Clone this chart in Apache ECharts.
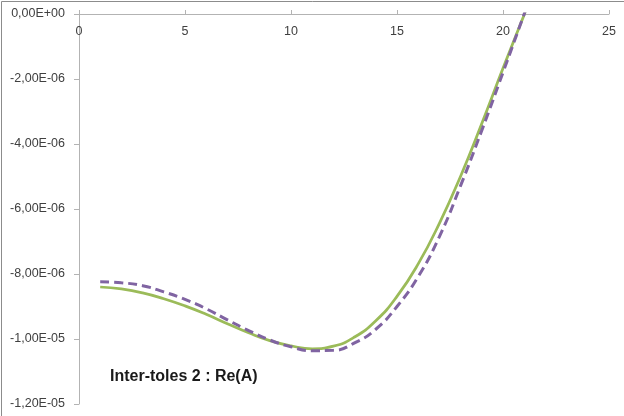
<!DOCTYPE html>
<html>
<head>
<meta charset="utf-8">
<script src="https://cdn.jsdelivr.net/npm/echarts@6/dist/echarts.min.js"></script>
<style>
html,body{margin:0;padding:0;background:#fff;}
#c{width:624px;height:416px;}
</style>
</head>
<body>
<div id="c"></div>
<script>
const xValues = [1,2,3,4,5,6,7,8,9,10,11,12,13,14,15,16,17,18,19,20,21,21.1];
const greenValues = [-8.40e-6,-8.46e-6,-8.58e-6,-8.76e-6,-8.98e-6,-9.24e-6,-9.53e-6,-9.81e-6,-10.05e-6,-10.21e-6,-10.30e-6,-10.22e-6,-9.94e-6,-9.44e-6,-8.69e-6,-7.69e-6,-6.44e-6,-4.99e-6,-3.37e-6,-1.67e-6,-0.02e-6,0.15e-6];
const purpleValues = [-8.24e-6,-8.27e-6,-8.36e-6,-8.55e-6,-8.78e-6,-9.07e-6,-9.41e-6,-9.74e-6,-10.03e-6,-10.24e-6,-10.36e-6,-10.35e-6,-10.12e-6,-9.70e-6,-9.00e-6,-8.08e-6,-6.85e-6,-5.28e-6,-3.58e-6,-1.80e-6,0.00e-6,0.18e-6];
const xTicks = [0,5,10,15,20,25];
const chartTitle = 'Inter-toles 2 : Re(A)';

function fmtSci(v){
  let s = Number(v).toExponential(2);
  let parts = s.split('e');
  let m = parts[0];
  let e = parseInt(parts[1],10);
  if (Number(m) === 0) { m = '0.00'; e = 0; }
  let es = (e < 0 ? '-' : '+') + String(Math.abs(e)).padStart(2,'0');
  return m.replace('.', ',') + 'E' + es;
}

const chart = echarts.init(document.getElementById('c'), null, {renderer:'canvas'});
const font = '"Liberation Sans", Arial, sans-serif';
chart.setOption({
  animation: false,
  backgroundColor: '#ffffff',
  grid: {left: 79, right: 15, top: 14, bottom: 12, containLabel: false},
  xAxis: {
    type: 'value', position: 'top', min: 0, max: 25, interval: 5,
    axisLine: {show: true, onZero: false, lineStyle: {color: '#b3b3b3', width: 1}},
    axisTick: {show: true, inside: false, length: 4, lineStyle: {color: '#b3b3b3'}},
    axisLabel: {inside: true, margin: 11, color: '#404040', fontSize: 12.5, fontFamily: font,
      formatter: v => xTicks.includes(v) ? String(v) : ''},
    splitLine: {show: false}
  },
  yAxis: {
    type: 'value', min: -1.2e-5, max: 0, interval: 2e-6,
    axisLine: {show: true, onZero: false, lineStyle: {color: '#b3b3b3', width: 1}},
    axisTick: {show: true, length: 5, lineStyle: {color: '#b3b3b3'}},
    axisLabel: {margin: 14, color: '#404040', fontSize: 12.5, fontFamily: font, formatter: fmtSci},
    splitLine: {show: false}
  },
  graphic: [
    {type: 'polyline', shape: {points: [[1.5,416],[1.5,1.5],[624,1.5]]}, style: {stroke: '#8c8c8c', lineWidth: 1, fill: null}, silent: true},
    {type: 'text', left: 110, top: 369, style: {text: chartTitle, font: 'bold 16px "Liberation Sans", Arial, sans-serif', fill: '#1a1a1a'}}
  ],
  series: [
    {
      type: 'line', name: 'green', data: xValues.map((x,i) => [x, greenValues[i]]),
      smooth: 0.5, showSymbol: false, clip: true,
      lineStyle: {color: '#9BBB59', width: 2.75}
    },
    {
      type: 'line', name: 'purple', data: xValues.map((x,i) => [x, purpleValues[i]]),
      smooth: 0.5, showSymbol: false, clip: true,
      lineStyle: {color: '#8064A2', width: 3, type: [9,5]}
    }
  ]
});
</script>
</body>
</html>
